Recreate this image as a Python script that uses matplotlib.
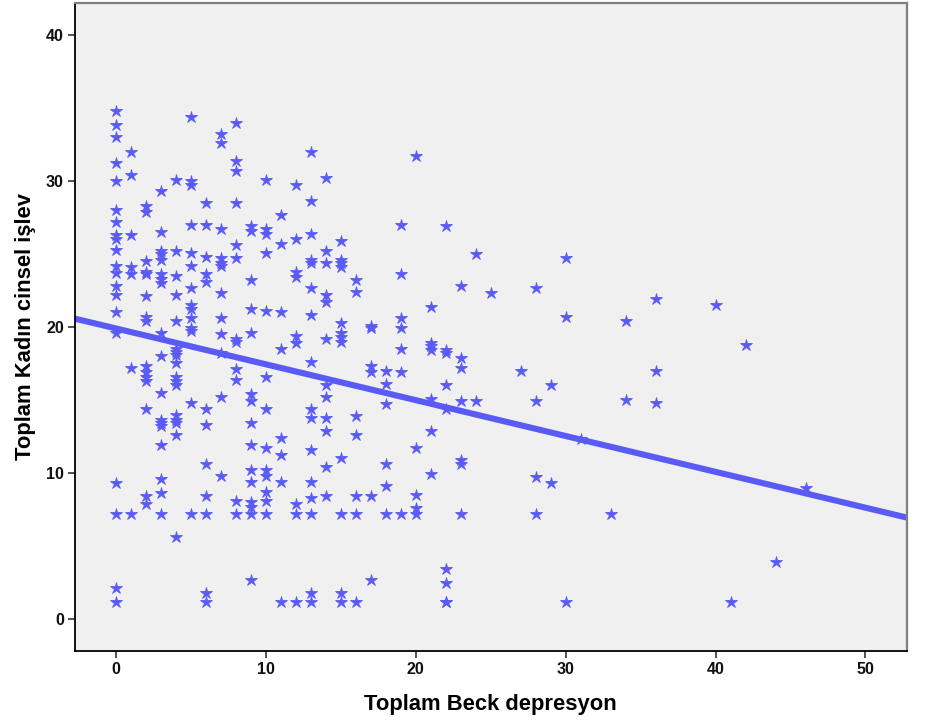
import numpy as np
import matplotlib.pyplot as plt

plt.rcParams['font.family'] = ['Liberation Sans', 'DejaVu Sans']

# Beck depression score and the female sexual function totals seen at each score
beck_scores = [0, 1, 2, 3, 4, 5, 6, 7, 8, 9, 10, 11, 12, 13, 14, 15, 16, 17, 18, 19,
               20, 21, 22, 23, 24, 25, 27, 28, 29, 30, 31, 33, 34, 36, 40, 41, 42, 44, 46]
fsfi_by_score = [
    [34.8, 33.8, 33.0, 31.2, 30.0, 28.0, 27.2, 26.3, 26.0, 25.3, 24.2, 23.7, 22.8, 22.2, 21.0, 19.6, 9.3, 7.2, 2.1, 1.2],
    [32.0, 30.4, 26.3, 24.1, 23.6, 17.2, 7.2],
    [28.3, 27.9, 24.5, 23.8, 23.6, 22.1, 20.7, 20.4, 17.3, 16.9, 16.6, 16.3, 14.4, 8.4, 7.9],
    [29.3, 26.5, 25.2, 25.0, 24.6, 23.6, 23.3, 23.0, 19.6, 18.0, 15.5, 13.6, 13.4, 13.2, 11.9, 9.6, 8.6, 7.2],
    [30.1, 25.2, 23.5, 22.2, 20.4, 18.5, 18.3, 18.1, 17.5, 16.6, 16.3, 16.0, 14.0, 13.6, 13.4, 12.6, 5.6],
    [34.4, 30.0, 29.7, 27.0, 25.1, 24.2, 22.7, 21.5, 21.2, 20.6, 19.9, 19.7, 14.8, 7.2],
    [28.5, 27.0, 24.8, 23.6, 23.1, 14.4, 13.3, 10.6, 8.4, 7.2, 1.8, 1.2],
    [33.2, 32.6, 26.7, 24.7, 24.4, 24.2, 22.3, 20.6, 19.5, 18.2, 15.2, 9.8],
    [34.0, 31.4, 30.7, 28.5, 25.6, 24.7, 19.2, 19.0, 17.1, 16.4, 8.1, 7.2],
    [26.9, 26.6, 23.2, 21.2, 19.6, 15.4, 14.9, 13.4, 11.9, 10.2, 9.4, 8.0, 7.7, 7.2, 2.7],
    [30.1, 26.7, 26.4, 25.1, 21.1, 16.6, 14.4, 11.7, 10.2, 9.8, 8.7, 8.1, 7.2],
    [27.7, 25.7, 21.0, 18.5, 12.4, 11.2, 9.4, 1.2],
    [29.7, 26.0, 23.8, 23.4, 19.4, 18.9, 7.9, 7.2, 1.2],
    [32.0, 28.6, 26.4, 24.6, 24.4, 22.7, 20.8, 17.6, 14.4, 13.8, 11.6, 9.4, 8.3, 7.2, 1.8, 1.2],
    [30.2, 25.2, 24.4, 22.2, 21.7, 19.2, 16.0, 15.2, 13.8, 12.9, 10.4, 8.4],
    [25.9, 24.6, 24.4, 24.1, 20.3, 19.6, 19.3, 19.0, 11.0, 7.2, 1.8, 1.2],
    [23.2, 22.4, 13.9, 12.6, 8.4, 7.2, 1.2],
    [20.1, 19.9, 17.3, 16.9, 8.4, 2.7],
    [17.0, 16.1, 14.7, 10.6, 9.1, 7.2],
    [27.0, 23.6, 20.6, 19.9, 18.5, 16.9, 7.2],
    [31.7, 11.7, 8.5, 7.6, 7.2],
    [21.4, 18.9, 18.7, 18.4, 15.1, 12.9, 9.9],
    [26.9, 18.4, 18.2, 16.0, 14.4, 3.4, 2.5, 1.2, 1.2],
    [22.8, 17.9, 17.2, 14.9, 10.9, 10.6, 7.2],
    [25.0, 14.9],
    [22.3],
    [17.0],
    [22.7, 14.9, 9.7, 7.2],
    [16.0, 9.3],
    [24.7, 20.7, 1.2],
    [12.3],
    [7.2],
    [20.4, 15.0],
    [21.9, 17.0, 14.8],
    [21.5],
    [1.2],
    [18.8],
    [3.9],
    [9.0],
]

# fit line (total fit)
fit_intercept = 19.9
fit_slope = -0.2455

x_ticks = [0, 10, 20, 30, 40, 50]
y_ticks = [0, 10, 20, 30, 40]

beck = np.concatenate([[s] * len(v) for s, v in zip(beck_scores, fsfi_by_score)])
fsfi = np.concatenate(fsfi_by_score)

point_color = '#5A5AF4'

fig = plt.figure(figsize=(9.27, 7.26), dpi=100)
ax = fig.add_axes([0.0809, 0.1033, 0.8972, 0.8926])
ax.set_facecolor('#F0F0F0')

ax.plot(beck, fsfi, linestyle='none', marker='*', markersize=9,
        color=point_color, markeredgecolor=point_color, markeredgewidth=0.6,
        zorder=3)

xmin, xmax = -2.73, 52.75
line_x = np.array([xmin, xmax])
ax.plot(line_x, fit_intercept + fit_slope * line_x, color=point_color,
        linewidth=4.4, solid_capstyle='butt', zorder=2)

ax.set_xlim(xmin, xmax)
ax.set_ylim(-2.19, 42.19)
ax.set_xticks(x_ticks)
ax.set_yticks(y_ticks)

for side in ['left', 'bottom']:
    ax.spines[side].set_color('black')
    ax.spines[side].set_linewidth(1.3)
for side in ['top', 'right']:
    ax.spines[side].set_color('#808080')
    ax.spines[side].set_linewidth(1.6)

ax.tick_params(direction='out', length=5, width=1.2, color='#333333',
               labelsize=11.5, pad=3)
for lbl in ax.get_xticklabels() + ax.get_yticklabels():
    lbl.set_fontweight('bold')
    lbl.set_color('#111111')

ax.set_xlabel('Toplam Beck depresyon', fontsize=15.8, fontweight='bold', labelpad=12)
ax.set_ylabel('Toplam Kadın cinsel işlev', fontsize=15.8, fontweight='bold', labelpad=7)

fig.savefig('out.png', dpi=100, facecolor='white')
